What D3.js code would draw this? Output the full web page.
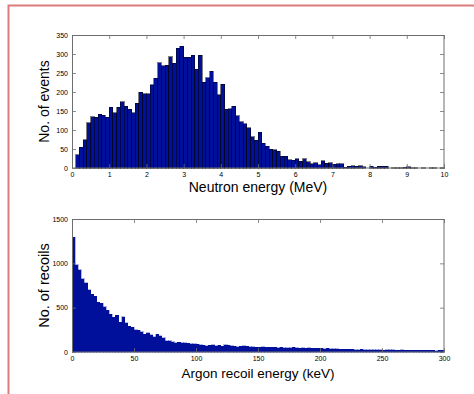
<!DOCTYPE html>
<html>
<head>
<meta charset="utf-8">
<script src="https://cdn.jsdelivr.net/npm/d3@7"></script>
<style>
  html, body { margin: 0; padding: 0; background: #fff; }
  svg { display: block; }
  text { font-family: "Liberation Sans", Arial, Helvetica, sans-serif; fill: #000; }
</style>
</head>
<body>
<svg id="chart" width="474" height="394"></svg>
<script>
// ---------- DATA ----------
// Upper histogram: neutron energy, bins of 0.1 MeV from 0 to 10 MeV
const neutronBinWidth = 0.1;
const neutronCounts = [
  0, 35, 55, 74, 119, 135, 133, 142, 139, 133,
  160, 146, 160, 175, 163, 155, 145, 171, 199, 196,
  196, 219, 236, 277, 269, 271, 293, 276, 315, 320,
  291, 292, 297, 260, 297, 226, 237, 254, 226, 193,
  221, 155, 156, 162, 138, 122, 116, 106, 82, 73,
  94, 65, 57, 49, 48, 44, 31, 31, 22, 20,
  25, 18, 25, 17, 11, 14, 9, 19, 12, 14,
  10, 11, 11, 2, 5, 6, 4, 6, 3, 0,
  4, 2, 4, 4, 4, 0, 1, 1, 1, 2,
  3, 1, 1, 0, 1, 0, 1, 1, 0, 1
];
const neutronXTicks = [0, 1, 2, 3, 4, 5, 6, 7, 8, 9, 10];
const neutronYTicks = [0, 50, 100, 150, 200, 250, 300, 350];

// Lower histogram: argon recoil energy, bins of 2.5 keV from 0 to 300 keV
const recoilBinWidth = 2.5;
const recoilCounts = [
  1296, 985, 926, 826, 780, 700, 652, 630, 560, 548,
  510, 472, 427, 392, 416, 336, 397, 329, 291, 280,
  253, 246, 227, 200, 215, 196, 170, 200, 185, 162,
  128, 125, 113, 104, 110, 102, 102, 100, 94, 94,
  87, 83, 74, 72, 76, 79, 68, 76, 64, 79,
  76, 72, 64, 57, 64, 68, 64, 60, 57, 53,
  55, 58, 54, 52, 56, 53, 50, 52, 48, 50,
  47, 52, 49, 45, 47, 44, 46, 42, 44, 40,
  42, 38, 40, 36, 34, 37, 33, 30, 32, 29,
  31, 28, 26, 29, 25, 27, 24, 26, 23, 25,
  22, 24, 28, 25, 22, 20, 23, 21, 19, 22,
  20, 18, 21, 19, 17, 20, 18, 16, 19, 17
];
const recoilXTicks = [0, 50, 100, 150, 200, 250, 300];
const recoilYTicks = [0, 500, 1000, 1500];

// ---------- DRAW ----------
const svg = d3.select("#chart");

// outer pink frame (extends past the picture on right/bottom)
svg.append("rect")
  .attr("x", 8.5).attr("y", 5.5)
  .attr("width", 600).attr("height", 600)
  .attr("fill", "none")
  .attr("stroke", "#dc7d7d")
  .attr("stroke-width", 2);

const barFill = "#00109a";
const axisColor = "#6e6e6e";
const fmt = d3.format("d");

function drawPanel(opts) {
  const { left, right, top, bottom, xDomain, yDomain, xTicks, yTicks,
          counts, binWidth, edges, xLabel, yLabel, xLabelSize, yLabelSize,
          tickFont } = opts;
  const x = d3.scaleLinear().domain(xDomain).range([left, right]);
  const y = d3.scaleLinear().domain(yDomain).range([bottom, top]);
  const g = svg.append("g");

  const bins = counts.map((c, i) => ({ x0: i * binWidth, x1: (i + 1) * binWidth, c }));

  g.append("g").selectAll("rect")
    .data(bins.filter(d => d.c > 0))
    .join("rect")
    .attr("x", d => x(d.x0))
    .attr("width", d => x(d.x1) - x(d.x0))
    .attr("y", d => y(d.c))
    .attr("height", d => y(0) - y(d.c))
    .attr("fill", barFill)
    .attr("stroke", edges ? "#000" : barFill)
    .attr("stroke-width", edges ? 0.5 : 0.3)
    .attr("shape-rendering", "crispEdges");

  // axes with inward ticks
  const tickLen = 4;
  const xAxisB = d3.axisBottom(x).tickValues(xTicks).tickFormat(fmt).tickSizeInner(-tickLen).tickSizeOuter(0).tickPadding(4);
  const xAxisT = d3.axisTop(x).tickValues(xTicks).tickSizeInner(-tickLen).tickSizeOuter(0).tickFormat("");
  const yAxisL = d3.axisLeft(y).tickValues(yTicks).tickFormat(fmt).tickSizeInner(-tickLen).tickSizeOuter(0).tickPadding(4);
  const yAxisR = d3.axisRight(y).tickValues(yTicks).tickSizeInner(-tickLen).tickSizeOuter(0).tickFormat("");

  const gb = g.append("g").attr("transform", `translate(0,${bottom})`).call(xAxisB);
  const gt = g.append("g").attr("transform", `translate(0,${top})`).call(xAxisT);
  const gl = g.append("g").attr("transform", `translate(${left},0)`).call(yAxisL);
  const gr = g.append("g").attr("transform", `translate(${right},0)`).call(yAxisR);

  [gb, gt, gl, gr].forEach(a => {
    a.select(".domain").remove();
    a.selectAll(".tick line").attr("stroke", axisColor).attr("stroke-width", 0.8);
    a.selectAll(".tick text")
      .style("font-family", '"Liberation Sans", Arial, sans-serif')
      .style("font-size", tickFont + "px")
      .attr("fill", "#222");
  });

  // box
  g.append("rect")
    .attr("x", left + 0.5).attr("y", top + 0.5)
    .attr("width", right - left - 0.5).attr("height", bottom - top - 0.5)
    .attr("fill", "none").attr("stroke", axisColor).attr("stroke-width", 1);

  // labels
  g.append("text")
    .attr("x", (left + right) / 2).attr("y", opts.xLabelY)
    .attr("text-anchor", "middle")
    .style("font-size", xLabelSize + "px")
    .text(xLabel);
  g.append("text")
    .attr("transform", `translate(${opts.yLabelX},${(top + bottom) / 2}) rotate(-90)`)
    .attr("text-anchor", "middle")
    .style("font-size", yLabelSize + "px")
    .text(yLabel);
}

drawPanel({
  left: 72, right: 444, top: 35, bottom: 168,
  xDomain: [0, 10], yDomain: [0, 350],
  xTicks: neutronXTicks, yTicks: neutronYTicks,
  counts: neutronCounts, binWidth: neutronBinWidth, edges: true,
  xLabel: "Neutron energy (MeV)", yLabel: "No. of events",
  xLabelSize: 14, yLabelSize: 14, tickFont: 7,
  xLabelY: 192, yLabelX: 49
});

drawPanel({
  left: 72, right: 444, top: 219, bottom: 352,
  xDomain: [0, 300], yDomain: [0, 1500],
  xTicks: recoilXTicks, yTicks: recoilYTicks,
  counts: recoilCounts, binWidth: recoilBinWidth, edges: false,
  xLabel: "Argon recoil energy (keV)", yLabel: "No. of recoils",
  xLabelSize: 13.5, yLabelSize: 14.5, tickFont: 7,
  xLabelY: 378, yLabelX: 49
});
</script>
</body>
</html>
